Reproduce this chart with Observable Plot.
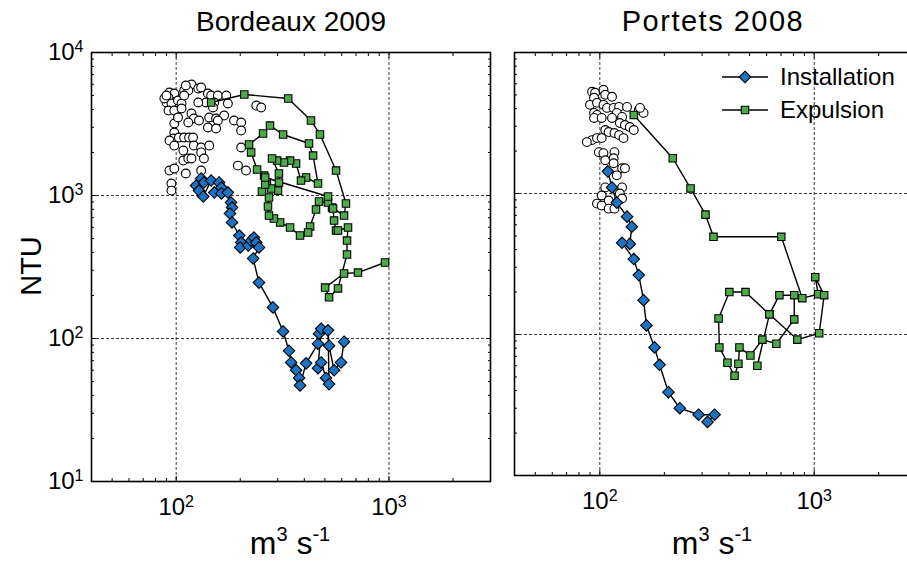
<!DOCTYPE html>
<html><head><meta charset="utf-8">
<script src="https://cdn.jsdelivr.net/npm/d3@7"></script>
<script src="https://cdn.jsdelivr.net/npm/@observablehq/plot@0.6"></script>
<style>
body{margin:0;overflow:hidden;background:#fff;font-family:"Liberation Sans",Arial,sans-serif}
#wrap{position:relative;width:907px;height:565px;overflow:hidden;background:#fff}
#wrap > svg{position:absolute;top:0}
</style></head>
<body><div id="wrap"></div>
<script>
// ---- Bordeaux 2009 ----
const bdxCircleQ = [118,109,114,93,98,92,90,95,102,106,109,127,131,141,146,157,172,151,175,138,127,149,92,98,106,118,121,128,114,98,102,143,154,168,157,141,154,187,202,202,238,251,98,97,103,109,115,120,93,98,121,131,143,108,131,202,108,114,118,135,93,98,111,131,195,213,95,95,88,90,111];
const bdxCircleNTU = [5974,5420,5420,5251,5167,4845,4470,4399,4613,4399,5000,5601,5693,5167,5000,5000,5000,4470,4399,4470,4470,4124,3927,3927,4058,3745,3455,3346,3240,3188,3511,3511,3455,3623,3346,2989,2941,3346,3240,2845,4256,4124,2758,2504,2545,2545,2545,2545,2422,2235,2235,2166,2235,2062,2000,2166,1755,1814,1814,1814,1494,1545,1425,1494,1619,1494,1213,1082,4768,5000,5876];
const bdxInstQ = [124,131,135,128,134,146,159,151,163,163,175,181,183,179,183,198,202,200,218,225,232,238,245,230,245,285,318,339,347,366,378,382,408,464,469,480,464,480,506,523,517,523,552,595,615];
const bdxInstNTU = [1173,1315,1233,1082,984,1272,1233,1049,1137,1033,1049,893,824,748,648,525,469,433,447,484,508,469,433,363,246,165,112,82,68,60,53,47,67,92,108,117,62,68,53,48,114,89,60,68,95];
const bdxExpQ = [146,209,336,430,474,564,628,615,540,517,469,454,426,417,382,343,308,288,273,270,273,253,267,259,240,225,220,256,276,318,421,440,464,408,386,366,343,321,298,282,304,304,301,279,262,262,517,546,552,564,576,642,635,635,576,523,501,615,715,958];
const bdxExpNTU = [4470,5085,4768,3346,2671,1494,879,724,824,893,908,798,607,551,525,597,648,690,724,838,968,1066,1233,1378,1520,2000,2273,2714,3084,2671,2310,1902,1213,1336,1272,1674,1755,1701,1755,1814,1425,1233,1082,1119,1193,1336,984,811,668,569,569,597,484,387,224,194,227,285,289,340];
// ---- Portets 2008 ----
const ptsCircleQ = [92,95,104,106,114,94,90,97,104,108,116,123,120,127,134,152,160,154,94,97,94,102,114,124,131,138,144,106,110,117,123,129,92,97,102,99,104,117,106,116,127,131,120,106,127,124,102,110,127,97,102,110,117,87,116];
const ptsCircleNTU = [5265,5180,5440,5012,4850,4771,4252,4394,4252,4047,4047,4114,3728,3490,4114,3916,3728,4047,3728,3607,3433,3433,3433,3162,3060,2961,2818,2818,2727,2683,2596,2471,2391,2471,2471,1963,1931,1963,1721,1778,1509,1509,1345,1104,1104,1000,968,891,921,848,821,781,781,2314,1638];
const ptsInstQ = [109,114,120,134,141,138,127,144,152,160,165,180,190,209,236,289,343,318];
const ptsInstNTU = [1436,1104,862,685,581,439,447,343,264,175,116,81,61,39,30,27,27,24];
const ptsExpQ = [144,219,265,311,339,702,880,1044,1011,1113,1055,834,618,478,402,358,361,394,425,443,448,504,573,666,807,807,688,618,543];
const ptsExpNTU = [3607,1778,1086,708,493,493,181,193,255,190,102,92,139,200,200,130,81,63,51,62,81,71,92,86,128,190,190,139,60];
// ---- axes ----
const xDomain = [40, 3000];
const yDomain = [10, 10000];
const xMajor = [100, 1000];
const yMajor = [10, 100, 1000, 10000];
const xGrid = [100, 1000];
const yGrid = [100, 1000];
const xMinor = [40,50,60,70,80,90,200,300,400,500,600,700,800,900,2000,3000];
const yMinor = [20,30,40,50,60,70,80,90,200,300,400,500,600,700,800,900,2000,3000,4000,5000,6000,7000,8000,9000];
const seriesNames = ["Installation", "Expulsion"];

const GREEN = "#4caa48", BLUE = "#1b73c4";
const FONT = "Liberation Sans, Arial, Helvetica, sans-serif";

const rows = (q, ntu) => q.map((d, i) => ({q: d, ntu: ntu[i]}));
const pow = d => "10^" + Math.round(Math.log10(d));
const blank = () => "";

function makePanel(o) {
  const circles = rows(o.cq, o.cn), inst = rows(o.iq, o.in), expu = rows(o.eq, o.en);
  const marks = [
    Plot.ruleX(xGrid, {stroke: "#222", strokeWidth: 0.9, strokeDasharray: "3,2"}),
    Plot.ruleY(yGrid, {stroke: "#222", strokeWidth: 0.9, strokeDasharray: "3,2"}),
    Plot.dot(circles, {x: "q", y: "ntu", r: 4.4, fill: "white", stroke: "black", strokeWidth: 1.1}),
    Plot.line(expu, {x: "q", y: "ntu", stroke: "black", strokeWidth: 1.4}),
    Plot.line(inst, {x: "q", y: "ntu", stroke: "black", strokeWidth: 1.4}),
    Plot.dot(expu, {x: "q", y: "ntu", symbol: "square", r: 4.2, fill: GREEN, stroke: "black", strokeWidth: 1.1}),
    Plot.dot(inst, {x: "q", y: "ntu", symbol: "diamond2", r: 5.2, fill: BLUE, stroke: "black", strokeWidth: 1.1}),
    Plot.axisX(xMinor, {anchor: "bottom", tickSize: 3, dy: -3, tickFormat: blank, label: null}),
    Plot.axisX(xMinor, {anchor: "top", tickSize: 3, dy: 3, tickFormat: blank, label: null}),
    Plot.axisX(xMajor, {anchor: "bottom", tickSize: 5, dy: -5, tickFormat: blank, label: null}),
    Plot.axisX(xMajor, {anchor: "top", tickSize: 5, dy: 5, tickFormat: blank, label: null}),
    Plot.axisY(yMinor, {anchor: "left", tickSize: 3, dx: 3, tickFormat: blank, label: null}),
    Plot.axisY(yMinor, {anchor: "right", tickSize: 3, dx: -3, tickFormat: blank, label: null}),
    Plot.axisY(yMajor, {anchor: "left", tickSize: 5, dx: 5, tickFormat: blank, label: null}),
    Plot.axisY(yMajor, {anchor: "right", tickSize: 5, dx: -5, tickFormat: blank, label: null}),
    Plot.axisX(xMajor, {anchor: "bottom", tickSize: 0, tickPadding: 16, tickFormat: pow, label: null}),
    o.showY ? Plot.axisY(yMajor, {anchor: "left", tickSize: 0, tickPadding: 8, tickFormat: pow, label: null}) : null,
    Plot.frame({stroke: "black", strokeWidth: 1.6})
  ];
  const svg = Plot.plot({
    width: o.width, height: o.height,
    marginTop: 52, marginBottom: o.height - o.bottom, marginLeft: o.ml, marginRight: o.mr,
    style: {fontFamily: FONT, background: "transparent", overflow: "visible", color: "black"},
    x: {type: "log", domain: xDomain},
    y: {type: "log", domain: yDomain},
    marks
  });
  d3.select(svg).selectAll("text").each(function() {
    const t = this.textContent;
    if (!t || t.indexOf("^") < 0) return;
    const [b, e] = t.split("^");
    const s = d3.select(this);
    s.selectAll("*").remove();
    s.text(null);
    s.attr("font-size", "24px").style("font-size", "24px");
    s.append("tspan").text(b);
    s.append("tspan").attr("dy", "-0.5em").style("font-size", "16px").text(e);
  });
  svg.style.left = o.left + "px";
  return svg;
}

const wrap = document.getElementById("wrap");
wrap.appendChild(makePanel({left: 0, width: 500, height: 530, bottom: 481, ml: 91, mr: 10, showY: true,
  cq: bdxCircleQ, cn: bdxCircleNTU, iq: bdxInstQ, in: bdxInstNTU, eq: bdxExpQ, en: bdxExpNTU}));
wrap.appendChild(makePanel({left: 504, width: 412, height: 530, bottom: 475, ml: 10, mr: 0, showY: false,
  cq: ptsCircleQ, cn: ptsCircleNTU, iq: ptsInstQ, in: ptsInstNTU, eq: ptsExpQ, en: ptsExpNTU}));

// ---- annotations: titles, axis titles, legend ----
const ann = d3.select(wrap).append("svg").attr("width", 907).attr("height", 565)
  .style("left", "0px").style("pointer-events", "none").attr("font-family", FONT);
ann.append("text").attr("x", 291).attr("y", 31).attr("text-anchor", "middle").attr("font-size", 28).text("Bordeaux 2009");
ann.append("text").attr("x", 713).attr("y", 31).attr("text-anchor", "middle").attr("font-size", 29).attr("letter-spacing", 1.5).text("Portets 2008");
ann.append("text").attr("transform", "translate(41,266) rotate(-90)").attr("text-anchor", "middle").attr("font-size", 29).text("NTU");
for (const cx of [290, 712]) {
  const t = ann.append("text").attr("x", cx).attr("y", 554).attr("text-anchor", "middle").attr("font-size", 32);
  t.append("tspan").text("m");
  t.append("tspan").attr("dy", -13).attr("font-size", 20).text("3");
  t.append("tspan").attr("dy", 13).text(" s");
  t.append("tspan").attr("dy", -13).attr("font-size", 20).text("-1");
}
const leg = [{y: 77, fill: BLUE, sym: d3.symbolDiamond2, r: 5.2}, {y: 110, fill: GREEN, sym: d3.symbolSquare, r: 4.2}];
leg.forEach((l, i) => {
  ann.append("line").attr("x1", 722).attr("x2", 768).attr("y1", l.y).attr("y2", l.y).attr("stroke", "black").attr("stroke-width", 1.4);
  ann.append("path").attr("d", d3.symbol(l.sym, Math.PI * l.r * l.r)()).attr("transform", `translate(745,${l.y})`)
    .attr("fill", l.fill).attr("stroke", "black").attr("stroke-width", 1.1);
  ann.append("text").attr("x", 780).attr("y", l.y + 8).attr("font-size", 24).text(seriesNames[i]);
});
</script>
</body></html>
